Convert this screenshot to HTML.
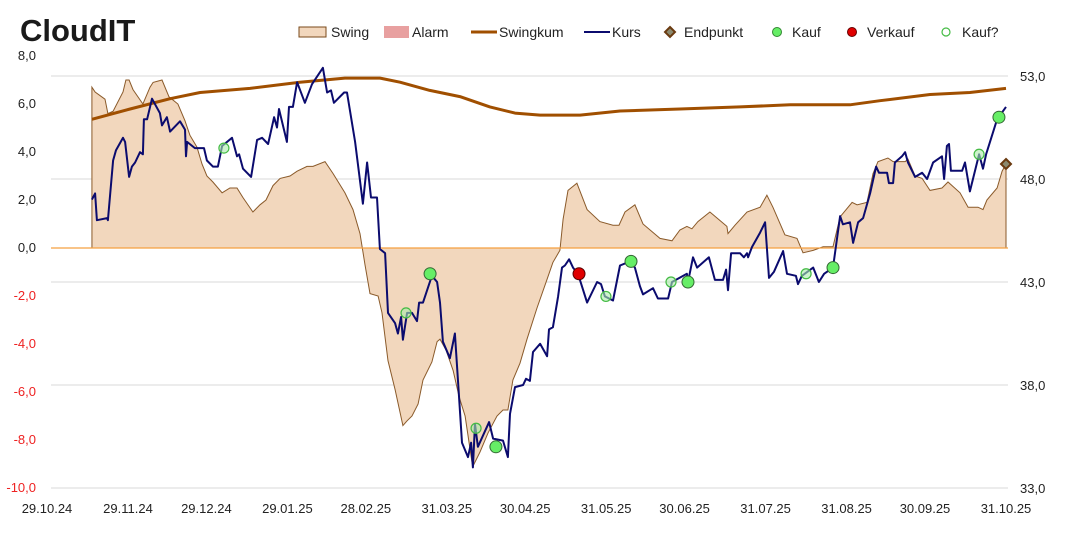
<!DOCTYPE html>
<html><head><meta charset="utf-8"><style>
body{margin:0;background:#fff;}
svg{display:block;font-family:"Liberation Sans",Calibri,sans-serif;}
</style></head><body>
<svg id="chart" width="1067" height="555" viewBox="0 0 1067 555">
<text x="20" y="41" font-size="31" font-weight="bold" fill="#1a1a1a">CloudIT</text>
<g id="grid"></g>
<g id="swingG"></g>
<g id="zeroG"></g>
<g id="kumG"></g>
<g id="kursG"></g>
<g id="markG"></g>
<g id="axL"></g>
<g id="axR"></g>
<g id="axX"></g>
<g font-size="14" fill="#222">
 <g><rect x="299" y="27" width="27" height="10" fill="#f2d7bd" stroke="#7a4a1a" stroke-width="1"/><text x="331" y="37">Swing</text></g>
 <g><rect x="384" y="26" width="25" height="12" fill="#e8a0a0"/><text x="412" y="37">Alarm</text></g>
 <g><line x1="471" y1="32" x2="497" y2="32" stroke="#a04f00" stroke-width="3"/><text x="499" y="37">Swingkum</text></g>
 <g><line x1="584" y1="32" x2="610" y2="32" stroke="#0b0b6e" stroke-width="2"/><text x="612" y="37">Kurs</text></g>
 <g><path d="M670 27 L675 32 L670 37 L665 32Z" fill="#8b8a70" stroke="#6a3a10" stroke-width="2"/><text x="684" y="37">Endpunkt</text></g>
 <g><circle cx="777" cy="32" r="4.5" fill="#66ee66" stroke="#338833" stroke-width="1"/><text x="792" y="37">Kauf</text></g>
 <g><circle cx="852" cy="32" r="4.5" fill="#e00000" stroke="#660000" stroke-width="1"/><text x="867" y="37">Verkauf</text></g>
 <g><circle cx="946" cy="32" r="4" fill="#fff" stroke="#44bb44" stroke-width="1.2"/><text x="962" y="37">Kauf?</text></g>
</g>
</svg>
<script>
// day offsets from 29.10.24
const xTickDays=[0,31,61,92,122,153,183,214,244,275,306,336,367];
const xTickLabels=["29.10.24","29.11.24","29.12.24","29.01.25","28.02.25","31.03.25","30.04.25","31.05.25","30.06.25","31.07.25","31.08.25","30.09.25","31.10.25"];
const leftTicks=[8,6,4,2,0,-2,-4,-6,-8,-10];
const rightTicks=[53,48,43,38,33];

const kursDays=[17.2,18.4,19.1,23.0,23.3,25.3,26.4,29.1,29.9,31.4,32.5,33.7,35.6,36.7,37.1,38.3,40.2,43.2,44.0,45.9,47.1,50.9,52.8,53.2,53.6,56.6,60.1,61.2,63.5,65.4,67.0,70.8,72.7,73.5,75.0,78.1,80.4,82.3,84.6,86.9,88.0,88.8,91.8,92.6,94.1,95.7,98.7,101.4,105.6,107.2,108.7,109.8,113.7,114.8,117.9,120.9,122.5,124.0,126.3,127.4,129.4,130.5,133.2,134.3,135.5,136.2,137.8,139.7,141.6,142.4,143.9,147.3,149.3,150.4,151.5,154.2,156.1,157.3,158.8,161.1,162.3,163.0,163.8,164.9,169.2,170.7,174.5,176.4,177.2,179.1,182.2,183.3,184.8,186.0,188.7,191.4,192.1,193.6,195.6,197.1,198.2,199.8,201.3,203.2,206.7,210.5,212.0,213.5,216.6,219.3,223.1,225.0,226.9,228.1,231.9,233.8,237.7,239.2,244.9,245.3,247.2,248.8,253.3,255.6,258.7,259.9,260.6,261.8,265.2,266.7,267.9,268.3,269.8,272.9,274.8,276.3,278.2,281.7,283.2,286.6,287.4,288.9,293.2,295.4,297.4,300.8,303.5,304.6,307.3,308.5,310.4,312.3,315.0,317.3,318.4,321.5,322.2,323.8,324.5,327.2,328.4,329.5,332.2,334.9,336.8,339.1,342.5,343.3,344.4,345.2,345.9,350.2,351.3,353.2,356.7,358.2,359.4,363.6,367.0];
const kursValues=[47.0,47.3,46.0,46.1,46.0,48.9,49.4,50.0,49.8,48.1,48.6,48.8,49.3,49.2,50.9,50.9,51.9,51.2,50.6,51.0,50.3,50.8,50.4,49.1,49.8,49.5,49.5,48.9,48.6,48.6,49.6,50.0,49.1,49.2,48.5,48.1,49.9,50.0,49.7,51.0,50.5,51.4,49.8,51.5,51.5,52.7,51.7,52.6,53.4,52.2,52.3,51.7,52.2,52.2,49.8,46.8,48.8,47.1,47.1,44.6,44.4,41.5,41.0,40.5,41.3,40.2,41.5,41.5,41.1,42.0,42.0,43.3,43.0,42.0,40.1,39.3,40.5,38.2,35.2,34.5,35.2,34.0,36.1,35.0,36.2,35.4,35.3,34.5,36.6,37.9,38.0,38.3,38.2,39.6,40.0,39.4,40.7,40.8,42.3,43.7,43.8,44.1,43.7,43.4,42.0,43.0,42.9,42.3,42.1,43.8,44.0,43.7,42.8,42.4,42.7,42.2,42.2,43.0,43.4,43.0,44.2,43.7,44.2,43.1,43.1,43.6,42.6,44.4,44.4,44.2,44.4,44.2,44.7,45.4,45.9,43.2,43.5,44.5,43.4,43.3,42.9,43.3,43.7,43.0,43.4,43.7,46.2,45.8,45.9,44.9,45.9,46.1,47.3,48.6,48.3,48.3,47.8,47.8,48.8,49.1,49.3,48.8,48.1,48.3,48.0,48.8,49.1,48.0,49.6,49.7,48.4,48.4,48.8,47.4,49.2,48.5,49.2,50.9,51.5];

const swingDays=[17.2,18.4,22.2,23.3,25.3,29.1,30.2,31.4,32.9,36.7,39.4,40.6,44.0,46.7,50.1,52.8,54.7,57.4,59.3,61.2,63.5,67.0,70.0,72.7,75.0,78.8,81.5,83.8,86.5,89.2,93.0,95.7,99.5,101.8,106.4,109.5,114.0,117.1,119.8,121.7,123.6,126.7,128.2,130.5,133.2,136.2,137.8,139.7,142.0,143.9,147.3,149.3,150.4,152.7,155.4,157.7,160.0,162.6,163.0,165.7,168.8,172.2,174.5,176.4,178.3,181.0,183.7,187.5,191.4,193.6,196.3,197.5,199.4,202.8,206.7,211.6,216.6,218.9,221.2,225.0,228.1,234.6,239.2,242.2,244.9,246.8,249.1,253.7,256.4,260.2,260.6,263.3,267.9,272.9,275.5,277.8,282.4,287.0,289.3,293.2,297.0,300.8,303.5,308.1,310.0,313.8,316.1,318.0,321.8,323.8,328.4,329.5,332.2,334.9,337.9,342.5,344.8,349.4,352.5,356.3,358.2,359.7,363.6,365.5,367.0];
const swingValues=[6.7,6.5,6.2,5.6,5.7,6.5,7.0,7.0,6.6,6.0,6.7,6.9,7.0,6.3,6.0,5.3,4.7,4.2,3.5,3.0,2.75,2.3,2.5,2.5,2.1,1.5,1.8,2.0,2.6,2.9,3.0,3.2,3.4,3.4,3.6,3.1,2.3,1.6,0.6,-0.7,-1.9,-2.0,-2.7,-4.7,-5.9,-7.4,-7.2,-7.0,-6.5,-5.5,-4.75,-3.9,-3.8,-4.25,-5.1,-6.2,-7.0,-8.9,-9.1,-8.5,-7.7,-7.0,-6.75,-6.75,-5.5,-4.8,-3.8,-2.5,-1.3,-0.6,-0.1,1.2,2.4,2.7,1.6,1.1,0.95,0.95,1.5,1.8,1.0,0.4,0.3,0.75,0.9,0.8,1.1,1.5,1.25,0.9,0.6,0.95,1.5,1.7,2.2,1.7,0.55,0.4,-0.2,-0.1,0.05,0.05,1.3,1.9,1.8,1.9,3.1,3.6,3.75,3.6,3.6,3.7,3.0,2.9,2.4,2.5,2.75,2.3,1.7,1.7,1.6,2.0,2.5,3.2,3.5];

const kumDays=[17.2,31.8,47.1,58.6,77.7,96.8,114.0,127.4,135.1,146.5,158.0,169.5,179.1,188.7,204.0,219.3,242.2,265.2,284.4,307.3,318.8,337.9,353.2,367.0];
const kumValues=[50.9,51.4,51.9,52.2,52.4,52.7,52.9,52.9,52.7,52.3,52.0,51.5,51.2,51.1,51.1,51.3,51.4,51.5,51.6,51.6,51.8,52.1,52.2,52.4];

const kaufDays=[146.6,171.8,223.5,245.3,300.8,364.3];
const kaufValues=[43.4,35.0,44.0,43.0,43.7,51.0];
const kaufQDays=[67.7,137.4,164.2,213.9,238.8,290.5,356.7];
const kaufQValues=[49.5,41.5,35.9,42.3,43.0,43.4,49.2];
const verkaufDays=[203.6];
const verkaufValues=[43.4];

const X0=47,X1=1006,PL=51,PR=1008;
const xs=d=>X0+d*(X1-X0)/367;
const yl=v=>248-v*24;
const yr=v=>76+(53-v)*20.6;
const NS="http://www.w3.org/2000/svg";
function mk(tag,attrs,parent){const e=document.createElementNS(NS,tag);for(const k in attrs)e.setAttribute(k,attrs[k]);parent.appendChild(e);return e;}
const $=id=>document.getElementById(id);

rightTicks.forEach(t=>{
 const l=mk('line',{x1:PL,x2:PR,y1:yr(t),y2:yr(t),stroke:'#d9d9d9','stroke-width':1},$('grid'));
 
 
});
let d='M'+xs(swingDays[0])+' '+yl(0);
swingDays.forEach((dd,i)=>{d+=' L'+xs(dd).toFixed(1)+' '+yl(swingValues[i]).toFixed(1);});
d+=' L'+xs(swingDays[swingDays.length-1])+' '+yl(0)+' Z';
const area=mk('path',{d:d,fill:'#f2d7bd',stroke:'none'},$('swingG'));


let dl='M'+xs(swingDays[0])+' '+yl(0);
swingDays.forEach((dd,i)=>{dl+=' L'+xs(dd).toFixed(1)+' '+yl(swingValues[i]).toFixed(1);});
dl+=' L'+xs(swingDays[swingDays.length-1])+' '+yl(0);
const sl=mk('path',{d:dl,fill:'none',stroke:'#8a5a2a','stroke-width':1},$('swingG'));


const z=mk('line',{x1:PL,x2:PR,y1:yl(0),y2:yl(0),stroke:'#f5a040','stroke-width':1.3},$('zeroG'));


const kp=mk('polyline',{points:kumDays.map((dd,i)=>xs(dd).toFixed(1)+','+yr(kumValues[i]).toFixed(1)).join(' '),fill:'none',stroke:'#a04f00','stroke-width':3,'stroke-linejoin':'round'},$('kumG'));


const kl=mk('polyline',{points:kursDays.map((dd,i)=>xs(dd).toFixed(1)+','+yr(kursValues[i]).toFixed(1)).join(' '),fill:'none',stroke:'#0b0b6e','stroke-width':2,'stroke-linejoin':'round'},$('kursG'));


kaufQDays.forEach((dd,i)=>{
 const c=mk('circle',{cx:xs(dd),cy:yr(kaufQValues[i]),r:5,fill:'rgba(170,235,170,0.6)',stroke:'#44bb44','stroke-width':1.2},$('markG'));
 
 
});
kaufDays.forEach((dd,i)=>{
 const c=mk('circle',{cx:xs(dd),cy:yr(kaufValues[i]),r:6,fill:'#66ee66',stroke:'#336633','stroke-width':1},$('markG'));
 
 
});
verkaufDays.forEach((dd,i)=>{
 const c=mk('circle',{cx:xs(dd),cy:yr(verkaufValues[i]),r:6,fill:'#e00000',stroke:'#550000','stroke-width':1},$('markG'));
 
 
});
const ld=swingDays[swingDays.length-1], lv=swingValues[swingValues.length-1];
const ex=xs(ld), ey=yl(lv);
const ep=mk('path',{d:`M${ex} ${ey-5} L${ex+5} ${ey} L${ex} ${ey+5} L${ex-5} ${ey}Z`,fill:'#8b8a70',stroke:'#6a3a10','stroke-width':2},$('markG'));


leftTicks.forEach(t=>{
 const tx=mk('text',{x:36,y:yl(t)+4,'text-anchor':'end','font-size':13,fill:t<0?'#ee2222':'#222'},$('axL'));
 tx.textContent=t.toFixed(1).replace('.',',');
 
 
});
rightTicks.forEach(t=>{
 const tx=mk('text',{x:1020,y:yr(t)+5,'font-size':13,fill:'#222'},$('axR'));
 tx.textContent=t.toFixed(1).replace('.',',');
 
 
});
xTickDays.forEach((dd,i)=>{
 const tx=mk('text',{x:xs(dd),y:513,'text-anchor':'middle','font-size':13,fill:'#222'},$('axX'));
 tx.textContent=xTickLabels[i];
 
 
});
</script>
</body></html>
